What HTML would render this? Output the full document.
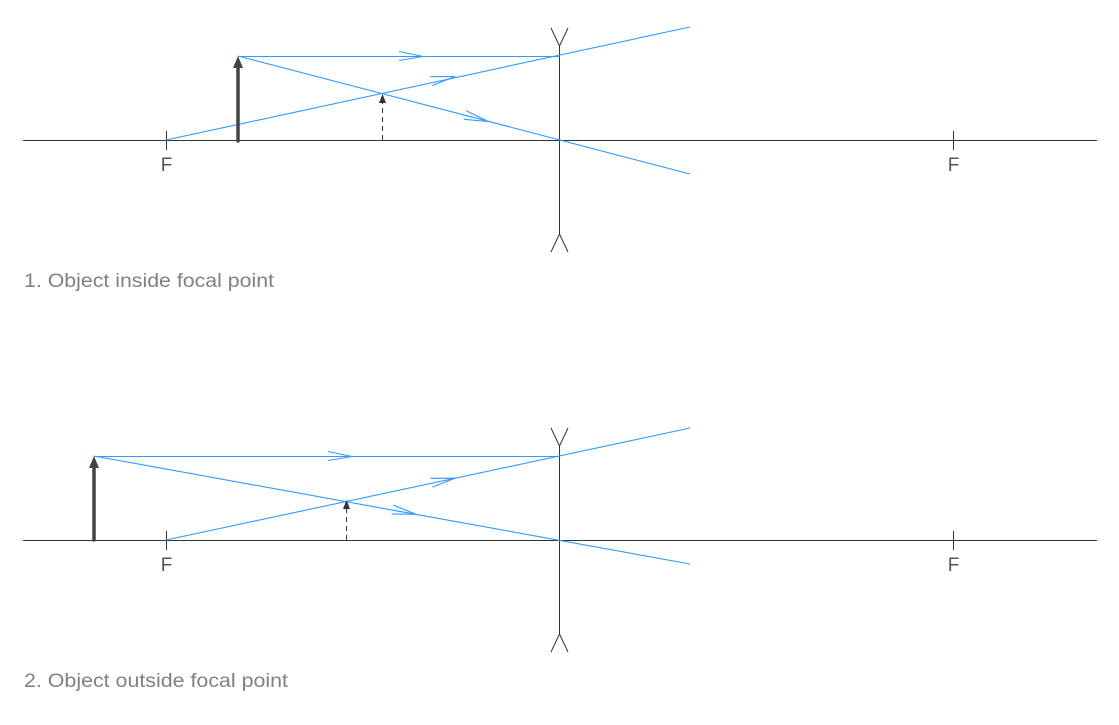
<!DOCTYPE html>
<html><head><style>
html,body{margin:0;padding:0;background:#fff;width:1119px;height:725px;overflow:hidden}
svg text{font-family:"Liberation Sans",sans-serif}
</style></head><body>
<svg width="1119" height="725" xmlns="http://www.w3.org/2000/svg">
<defs>
<marker id="ah" markerWidth="8" markerHeight="8" refX="4" refY="1" orient="auto" markerUnits="userSpaceOnUse"><path d="M0,9 L4,0 L8,9 Z" fill="#333"/></marker>
</defs>
<g stroke="#333" stroke-width="1" fill="none">
<!-- diagram 1 -->
<line x1="23" y1="140.5" x2="1097" y2="140.5"/>
<line x1="166.5" y1="131" x2="166.5" y2="150"/>
<line x1="953.5" y1="131" x2="953.5" y2="150"/>
<line x1="559.5" y1="46" x2="559.5" y2="234"/>
<polyline points="551,28 559.5,46 568,28"/>
<polyline points="551,252 559.5,234 568,252"/>
<!-- diagram 2 -->
<line x1="23" y1="540.5" x2="1097" y2="540.5"/>
<line x1="166.5" y1="531" x2="166.5" y2="550"/>
<line x1="953.5" y1="531" x2="953.5" y2="550"/>
<line x1="559.5" y1="446" x2="559.5" y2="634"/>
<polyline points="551,428 559.5,446 568,428"/>
<polyline points="551,652 559.5,634 568,652"/>
</g>
<g stroke="#3399ff" stroke-width="1.1" fill="none">
<line x1="238" y1="56.5" x2="559.5" y2="56.5"/>
<line x1="166" y1="140" x2="690" y2="27"/>
<line x1="238" y1="56" x2="690" y2="174"/>
<g transform="translate(423,56.5)"><polyline points="-24,-5 0,0 -24,4"/></g>
<g transform="translate(455,76.5) rotate(-12.17)"><polyline points="-24,-5 0,0 -24,4"/></g>
<g transform="translate(488,121.5) rotate(14.63)"><polyline points="-24,-5 0,0 -24,4"/></g>
<line x1="94" y1="456.5" x2="559.5" y2="456.5"/>
<line x1="166" y1="540" x2="690" y2="428"/>
<line x1="94" y1="456" x2="690" y2="564"/>
<g transform="translate(352,456.5)"><polyline points="-24,-5 0,0 -24,4"/></g>
<g transform="translate(455,478.2) rotate(-12.06)"><polyline points="-24,-5 0,0 -24,4"/></g>
<g transform="translate(416,514.3) rotate(10.27)"><polyline points="-24,-5 0,0 -24,4"/></g>
</g>
<!-- objects -->
<g stroke="#444" stroke-width="3.5" stroke-linecap="round">
<line x1="238" y1="141" x2="238" y2="66"/>
<line x1="94" y1="540" x2="94" y2="466"/>
</g>
<path d="M233,68 L238,56 L243,68 Z" fill="#444"/>
<path d="M89,468 L94,456 L99,468 Z" fill="#444"/>
<!-- images -->
<g stroke="#333" stroke-width="1" stroke-dasharray="5,4">
<line x1="382.5" y1="140" x2="382.5" y2="100"/>
<line x1="346.5" y1="540" x2="346.5" y2="506"/>
</g>
<path d="M379,103 L382.5,94 L386,103 Z" fill="#333"/>
<path d="M343,509 L346.5,500 L350,509 Z" fill="#333"/>
<g fill="#555" font-size="19">
<text x="166.5" y="171" text-anchor="middle">F</text>
<text x="953.5" y="171" text-anchor="middle">F</text>
<text x="166.5" y="571" text-anchor="middle">F</text>
<text x="953.5" y="571" text-anchor="middle">F</text>
</g>
<g fill="#808080" font-size="19">
<text x="24" y="287" textLength="250" lengthAdjust="spacingAndGlyphs">1. Object inside focal point</text>
<text x="24" y="687" textLength="264" lengthAdjust="spacingAndGlyphs">2. Object outside focal point</text>
</g>
</svg>
</body></html>
